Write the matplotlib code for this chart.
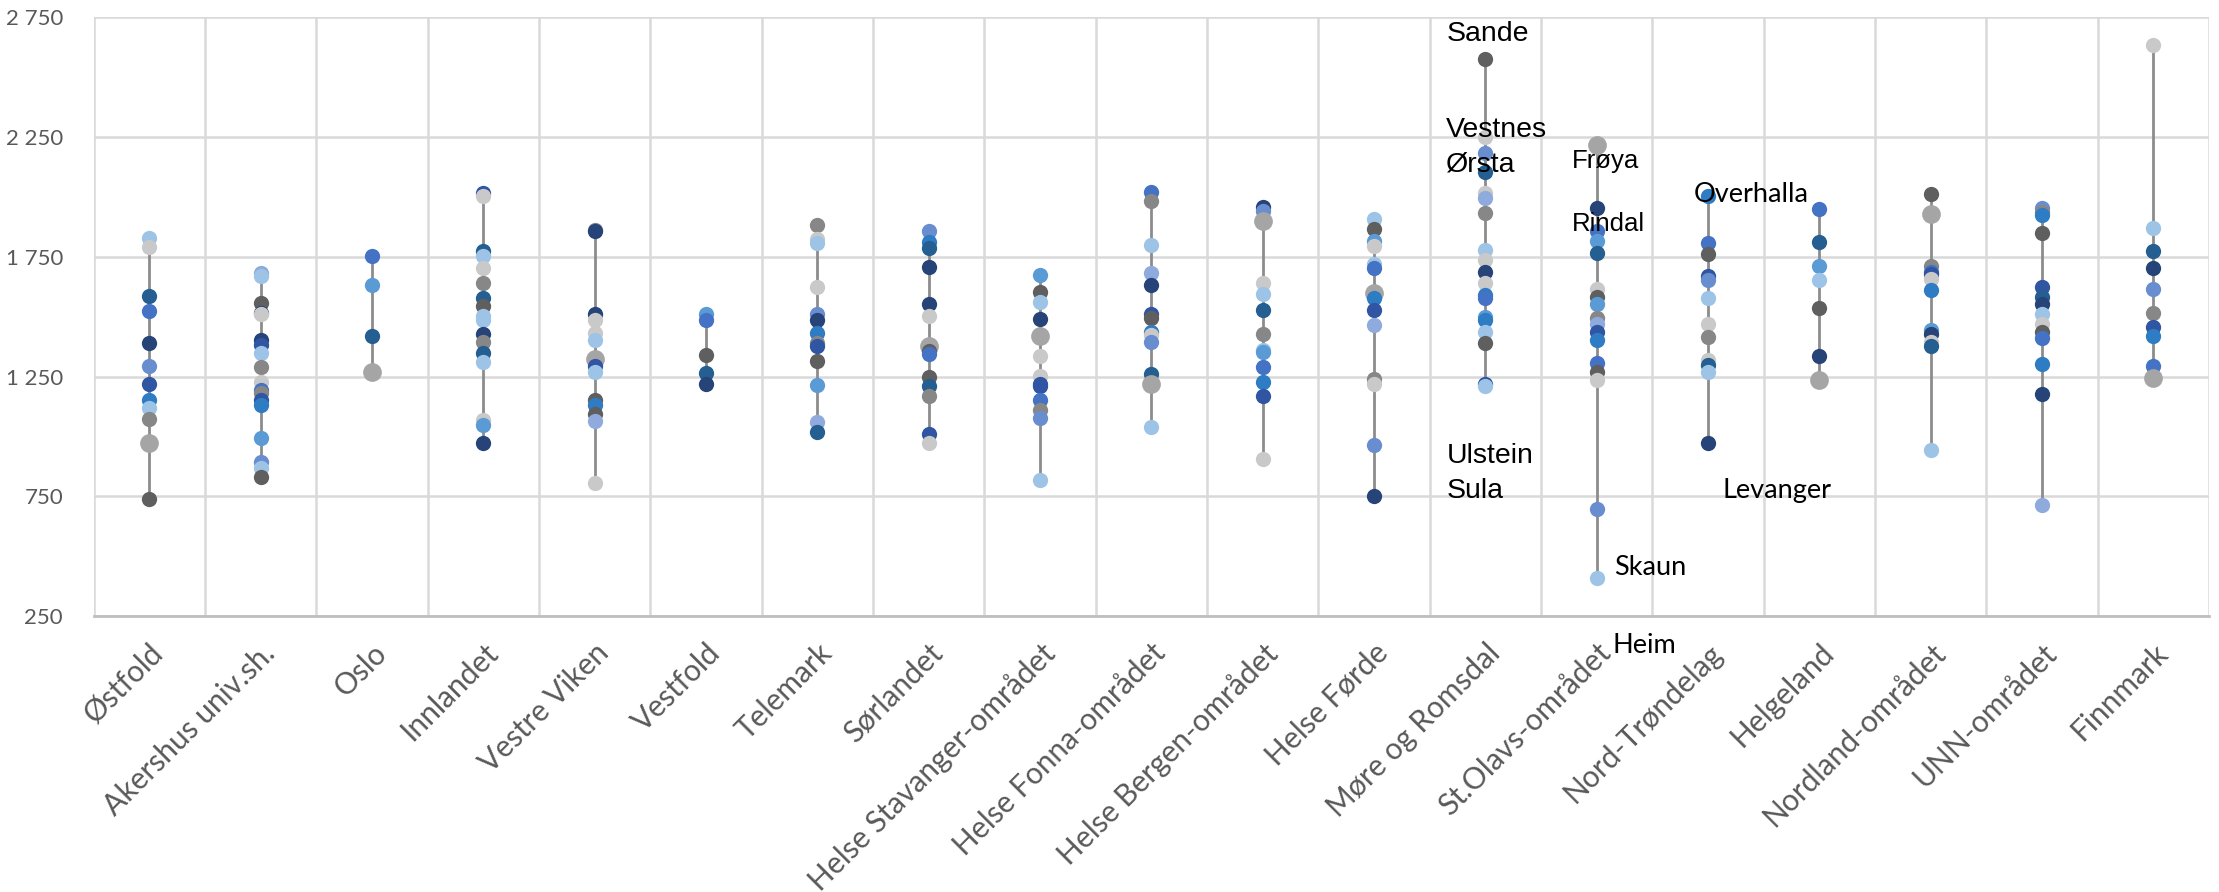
import matplotlib
matplotlib.use("Agg")
import matplotlib.pyplot as plt
from matplotlib.ticker import FixedLocator, FuncFormatter

# -----------------------------
# Data
# -----------------------------
categories = [
    "Østfold", "Akershus univ.sh.", "Oslo", "Innlandet", "Vestre Viken",
    "Vestfold", "Telemark", "Sørlandet", "Helse Stavanger-området",
    "Helse Fonna-området", "Helse Bergen-området", "Helse Førde",
    "Møre og Romsdal", "St.Olavs-området", "Nord-Trøndelag", "Helgeland",
    "Nordland-området", "UNN-området", "Finnmark",
]

ostfold = [1827, 1792, 1586, 1524, 1389, 1295, 1220, 1153, 1121, 1074, 973, 741]
akershus = [1682, 1670, 1556, 1514, 1510, 1402, 1382, 1348, 1290, 1226, 1193,
            1181, 1154, 1131, 992, 895, 870, 833]
oslo = [1752, 1632, 1419, 1270]
innlandet = [2017, 2005, 1774, 1754, 1703, 1640, 1578, 1544, 1502, 1486, 1427,
             1394, 1348, 1310, 1067, 1050, 975]
vestre_viken = [1862, 1859, 1511, 1486, 1432, 1402, 1322, 1293, 1271, 1151,
                1131, 1092, 1064, 808]
vestfold = [1511, 1486, 1340, 1263, 1218]
telemark = [1883, 1824, 1809, 1623, 1511, 1486, 1432, 1389, 1377, 1313, 1215,
            1059, 1020]
sorlandet = [1859, 1812, 1787, 1709, 1553, 1502, 1377, 1355, 1343, 1248, 1209,
             1168, 1012, 972]
stavanger = [1673, 1603, 1561, 1489, 1419, 1338, 1251, 1218, 1209, 1154, 1109,
             1079, 819]
fonna = [2018, 1983, 1799, 1682, 1633, 1511, 1494, 1436, 1422, 1394, 1260,
         1218, 1040]
bergen = [1958, 1941, 1899, 1640, 1595, 1528, 1427, 1360, 1352, 1290, 1226,
          1168, 908]
forde = [1908, 1866, 1816, 1796, 1720, 1703, 1598, 1578, 1528, 1464, 1238,
         1218, 963, 752]
more_romsdal = [2574, 2248, 2184, 2105, 2017, 1993, 1933, 1779, 1737, 1687,
                1640, 1590, 1578, 1498, 1486, 1436, 1389, 1221, 1209]
st_olavs = [2214, 1955, 1857, 1816, 1767, 1616, 1583, 1553, 1494, 1469, 1436,
            1402, 1305, 1271, 1235, 699, 409]
nord_trondelag = [2005, 1809, 1762, 1670, 1653, 1578, 1469, 1414, 1318, 1298,
                  1271, 975]
helgeland = [1950, 1812, 1712, 1653, 1536, 1338, 1235]
nordland = [2013, 1929, 1712, 1687, 1678, 1658, 1611, 1444, 1427, 1394, 1377,
            945]
unn = [1955, 1938, 1925, 1851, 1625, 1583, 1553, 1511, 1469, 1436, 1410, 1302,
       1179, 716]
finnmark = [2633, 1871, 1774, 1703, 1616, 1514, 1456, 1419, 1293, 1243]

values = [ostfold, akershus, oslo, innlandet, vestre_viken, vestfold, telemark,
          sorlandet, stavanger, fonna, bergen, forde, more_romsdal, st_olavs,
          nord_trondelag, helgeland, nordland, unn, finnmark]

# municipality labels (name, category, value)
label_names = ["Sande", "Vestnes", "Ørsta", "Ulstein", "Sula", "Frøya",
               "Rindal", "Skaun", "Heim", "Overhalla", "Levanger"]
label_cats = [12, 12, 12, 12, 12, 13, 13, 13, 13, 14, 14]
label_values = [2677, 2278, 2133, 918, 773, 2150, 1885, 455, 130, 2008, 773]

y_ticks = [250, 750, 1250, 1750, 2250, 2750]

# -----------------------------
# Styles
# -----------------------------
palette = {
    "N": "#264478", "D": "#2f55a3", "B": "#4472c4", "T": "#255e91",
    "M": "#2e7cc3", "S": "#5b9bd5", "P": "#698ed0", "Q": "#8faadc",
    "L": "#9dc3e6", "K": "#5f5f5f", "G": "#878787", "A": "#a5a5a5",
    "C": "#c9c9c9",
}
shades = [
    "LCTBNPDMLGAK", "QLKNCNDLGCBGDMSPLK", "BSTA", "DCTLCGTKLLNGTLCSN",
    "GNNCCLADLKMKQC", "SBKTN", "GCLCPNMGDKSQT", "PMTNNCAKBKTGDC",
    "SKLNACCDDBGPL", "BGLQNDKMCPTAL", "NPACLTGLSBMDC", "LKSCLBAMDQGCPN",
    "KCPTCQGLCNCMBSMLKDL", "ANBSTCKSGQDMBKCPL", "MBKDPLCGCTLN", "BTSLKNA",
    "KAGBDCMSNCTL", "PGMKDTNLCKBMNQ", "CLTNPGDMBA",
]
label_dx = [-0.35, -0.35, -0.35, -0.35, -0.35, -0.22, -0.22, 0.16, 0.14, -0.13, 0.13]
label_font = ["Liberation Sans"] * 7 + ["Lato"] * 4
label_size = [20.5, 20.5, 20.5, 20.5, 20.5, 18.5, 18.5, 19.5, 19.5, 19.5, 19.5]

# -----------------------------
# Plot
# -----------------------------
fig = plt.figure(figsize=(22.19, 8.92), dpi=100)
ax = fig.add_axes([0.0422, 0.309, 0.9533, 0.672])

xs = range(len(categories))
for i, vals in enumerate(values):
    ax.plot([i, i], [min(vals), max(vals)], color="#8c8c8c", lw=2, zorder=2)
    for v, c in zip(vals, shades[i]):
        size = 13.5 if c == "A" else 11
        ax.plot(i, v, "o", color=palette[c], markersize=size,
                markeredgewidth=0, zorder=3)

for name, cat, val, dx, fam, fs in zip(label_names, label_cats, label_values,
                                       label_dx, label_font, label_size):
    ax.text(cat + dx, val, name, ha="left", va="center", fontsize=fs,
            family=fam, color="black", clip_on=False, zorder=4)

ax.set_xlim(-0.5, len(categories) - 0.5)
ax.set_ylim(250, 2750)
ax.yaxis.set_major_locator(FixedLocator(y_ticks))
ax.yaxis.set_major_formatter(
    FuncFormatter(lambda v, p: f"{int(v):,}".replace(",", " ")))
ax.set_xticks(list(xs))
ax.set_xticklabels(categories, rotation=45, ha="right", va="top",
                   rotation_mode="anchor", fontsize=21.5, family="Lato",
                   color="#595959")
ax.set_xticks([i - 0.5 for i in range(len(categories) + 1)], minor=True)
ax.tick_params(axis="x", which="both", length=0, pad=16)
ax.tick_params(axis="y", length=0, pad=22, labelsize=16, labelcolor="#595959")
for lab in ax.get_yticklabels():
    lab.set_family("Lato")

ax.grid(True, axis="y", which="major", color="#d9d9d9", lw=1.8)
ax.grid(True, axis="x", which="minor", color="#d9d9d9", lw=1.8)
ax.set_axisbelow(True)
for side in ["top", "right", "left"]:
    ax.spines[side].set_visible(False)
ax.spines["bottom"].set_color("#bfbfbf")
ax.spines["bottom"].set_linewidth(2)

fig.savefig("out.png", dpi=100)
